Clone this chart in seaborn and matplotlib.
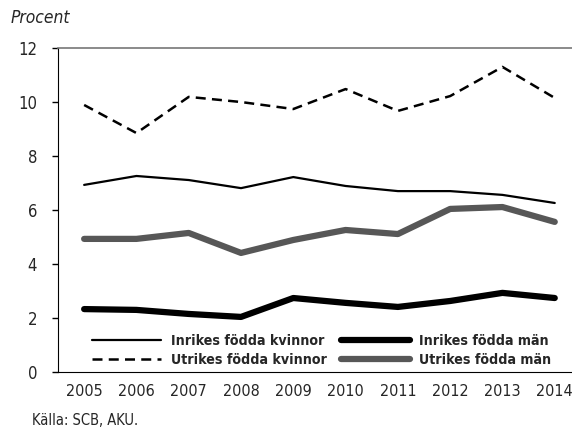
import numpy as np
import pandas as pd
import matplotlib.pyplot as plt
import seaborn as sns

years = ["2005", "2006", "2007", "2008", "2009", "2010", "2011", "2012", "2013", "2014"]
inrikes_kvinnor = [6.93, 7.26, 7.11, 6.81, 7.22, 6.89, 6.70, 6.70, 6.56, 6.26]
utrikes_kvinnor = [9.89, 8.85, 10.19, 10.0, 9.74, 10.48, 9.67, 10.22, 11.3, 10.15]
inrikes_man = [2.33, 2.30, 2.15, 2.04, 2.74, 2.56, 2.41, 2.63, 2.93, 2.74]
utrikes_man = [4.93, 4.93, 5.15, 4.41, 4.89, 5.26, 5.11, 6.04, 6.11, 5.56]

sns.set_style("white")
plt.rcParams["font.family"] = ["DejaVu Sans Condensed", "DejaVu Sans"]
plt.rcParams["font.stretch"] = "condensed"

fig = plt.figure(figsize=(5.72, 4.33), dpi=100)
ax = fig.add_axes([0.1014, 0.1409, 0.8986, 0.7482])

pos = np.arange(len(years))
# order so the two-column legend matches: kvinnor left, män right
series = [
    ("Inrikes födda kvinnor", inrikes_kvinnor, "black", 1.6, "-"),
    ("Utrikes födda kvinnor", utrikes_kvinnor, "black", 1.8, (0, (4, 2.5))),
    ("Inrikes födda män", inrikes_man, "black", 4.5, "-"),
    ("Utrikes födda män", utrikes_man, "#575757", 4.5, "-"),
]
for name, vals, col, lw, ls in series:
    df = pd.DataFrame({"x": pos, "y": vals})
    sns.lineplot(data=df, x="x", y="y", ax=ax, color=col, linewidth=lw,
                 linestyle=ls, label=name, solid_capstyle="round")

ax.set_xlim(-0.5, 9.33)
ax.set_ylim(0, 12)
ax.set_yticks([0, 2, 4, 6, 8, 10, 12])
ax.set_xticks(pos)
ax.set_xticklabels(years)
ax.set_xticks(np.arange(0.5, 9, 1), minor=True)
ax.tick_params(axis="x", which="major", length=0, labelsize=11.5, pad=9)
ax.tick_params(axis="x", which="minor", length=6, width=1, direction="inout", color="black")
ax.tick_params(axis="y", length=4, width=1, color="black", labelsize=12, pad=11, left=True)
ax.set_xlabel("")
ax.set_ylabel("")

ax.spines["right"].set_visible(False)
ax.spines["top"].set_color("#777777")
ax.spines["top"].set_linewidth(1.2)
ax.spines["left"].set_color("black")
ax.spines["bottom"].set_color("black")

leg = ax.legend(loc="lower left", bbox_to_anchor=(0.066, 0.015), ncol=2, frameon=False,
                borderpad=0, borderaxespad=0,
                handlelength=4.9, columnspacing=1.0, handletextpad=0.65,
                labelspacing=0.35, prop={"weight": "bold", "size": 10.2})

fig.text(0.018, 0.958, "Procent", fontsize=12.5, style="italic", va="center")
fig.text(0.056, 0.028, "Källa: SCB, AKU.", fontsize=10.5, va="center")

fig.savefig("out.png", dpi=100)
